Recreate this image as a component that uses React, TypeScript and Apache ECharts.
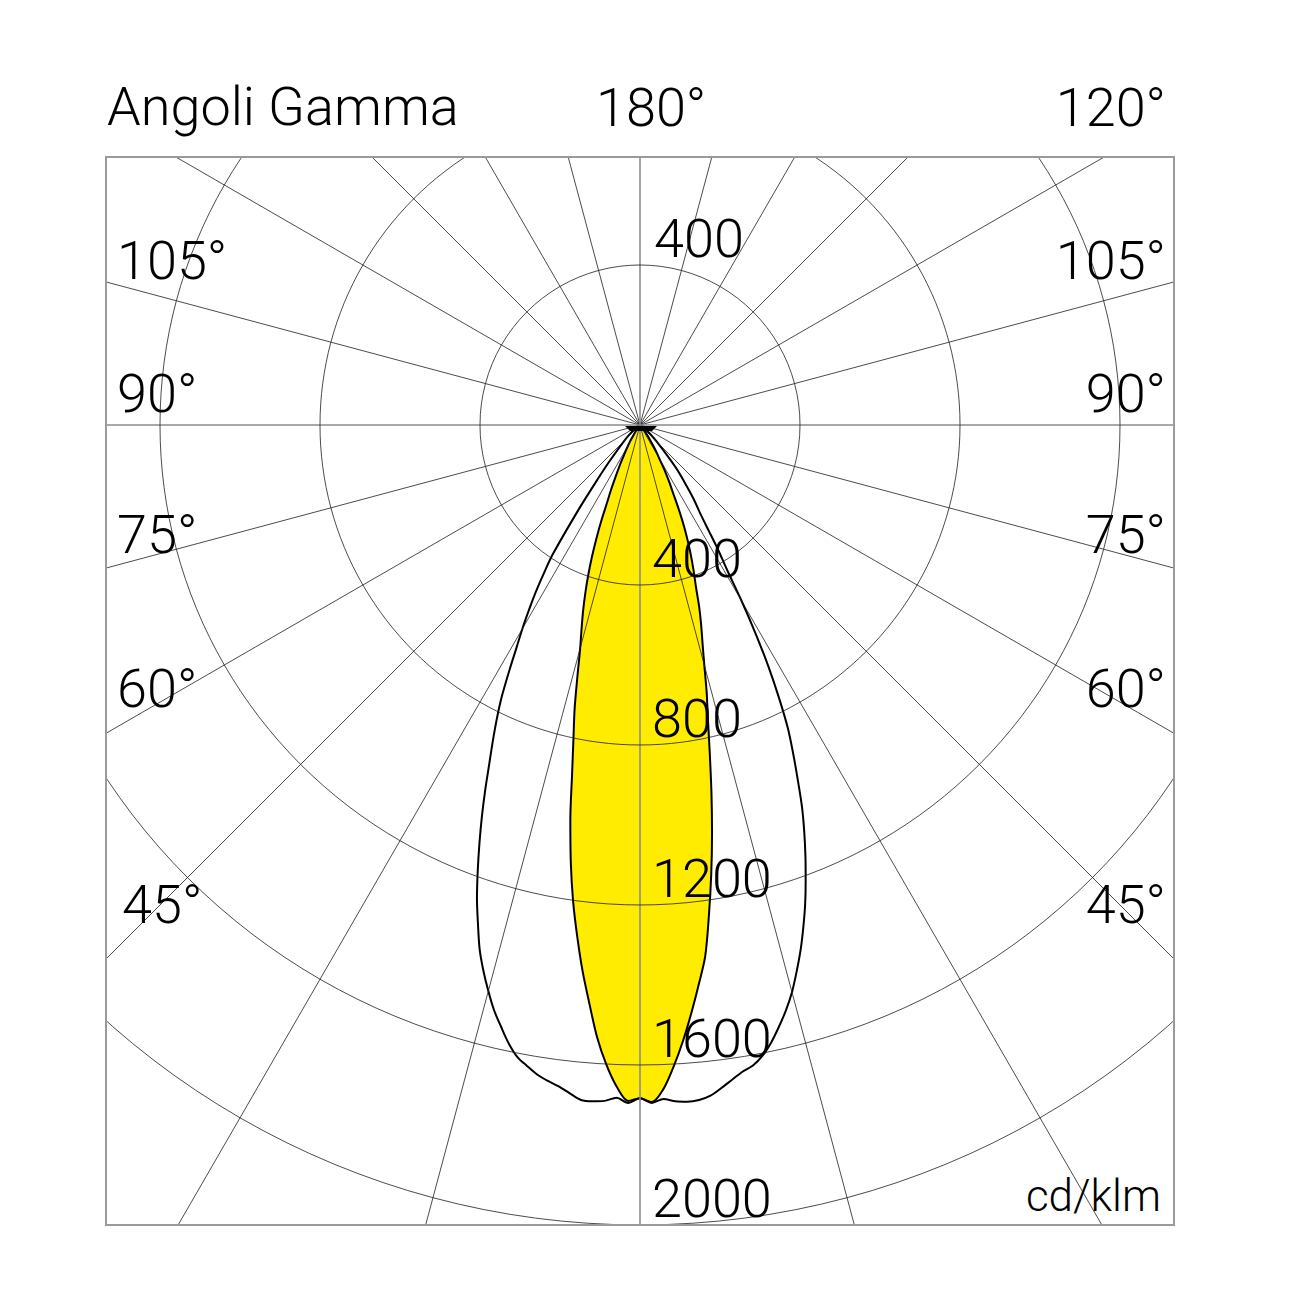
import React, { useEffect, useRef } from 'react';
import * as echarts from 'echarts';

// Gamma angles (degrees from nadir) at which intensities were read
const gammaAngles = [0, 1, 2, 3, 4, 5, 6, 7, 8, 9, 10, 11, 12, 13, 14, 15, 16, 17, 18, 19, 20, 21, 22, 23, 24, 25, 26, 27, 28, 29, 30, 31, 32, 33, 34, 36, 38, 40, 45, 50, 60, 75, 90];

// Yellow filled curve (C0 right half / C180 left half), cd/klm
const yellowRight = [1683, 1693, 1662, 1606, 1543, 1475, 1406, 1338, 1238, 1138, 1037, 936, 839, 755, 689, 621, 567, 523, 479, 431, 395, 361, 327, 293, 257, 221, 187, 164, 141, 117, 96, 82, 68, 55, 45, 28, 17, 10, 3, 0, 0, 0, 0];
const yellowLeft = [1683, 1690, 1656, 1602, 1535, 1452, 1373, 1288, 1202, 1106, 1003, 890, 800, 726, 646, 578, 530, 487, 443, 398, 352, 305, 258, 210, 180, 150, 125, 105, 85, 72, 60, 50, 40, 30, 24, 12, 7, 4, 0, 0, 0, 0, 0];

// Black outline curve (C90 right half / C270 left half), cd/klm
const blackRight = [1683, 1695, 1686, 1693, 1696, 1694, 1686, 1670, 1653, 1637, 1626, 1606, 1578, 1544, 1508, 1468, 1421, 1373, 1321, 1268, 1211, 1154, 1096, 1036, 969, 906, 843, 765, 684, 596, 508, 423, 370, 317, 275, 227, 179, 140, 60, 28, 8, 2, 0];
const blackLeft = [1683, 1695, 1683, 1692, 1695, 1694, 1680, 1666, 1656, 1644, 1627, 1609, 1580, 1544, 1508, 1465, 1420, 1371, 1311, 1252, 1186, 1120, 1055, 990, 926, 870, 816, 760, 697, 637, 588, 538, 490, 440, 390, 260, 172, 120, 55, 25, 8, 2, 0];

// Ring tick labels
const ringLabelsDown = [400, 800, 1200, 1600, 2000];
const ringLabelsUp = [400];

// Angle labels
const titleLabel = 'Angoli Gamma';
const topLabels = ['180°', '120°'];
const sideLabels = ['105°', '90°', '75°', '60°', '45°'];
const unitLabel = 'cd/klm';

const FONT = 'Roboto, "Liberation Sans", Arial, sans-serif';
const WEIGHT = 300;

function buildCurve(right: number[], left: number[]) {
  const pts: [number, number][] = [];
  for (let i = gammaAngles.length - 1; i >= 0; i--) pts.push([right[i], 360 - gammaAngles[i]]);
  for (let i = 1; i < gammaAngles.length; i++) pts.push([left[i], gammaAngles[i]]);
  return pts;
}

export default function App() {
  const ref = useRef<HTMLDivElement>(null);

  useEffect(() => {
    if (!ref.current) return;
    const chart = echarts.init(ref.current, undefined, { renderer: 'svg' });

    const CX = 640;
    const CY = 425;
    const FL = 106, FT = 157, FR = 1174, FB = 1225;

    const gridDark = '#1e1e1e';
    const none = 'rgba(0,0,0,0)';

    const sideY = [260, 393, 534, 688, 904];
    const sideLeftX = [117, 117, 117, 117, 122];

    const textStyle = (text: string, x: number, y: number, align: string, size = 54) => ({
      type: 'text',
      x,
      y,
      z: 30,
      silent: true,
      style: {
        text,
        fontSize: size,
        fontFamily: FONT,
        fontWeight: WEIGHT,
        fill: '#000',
        align,
        textAlign: align,
        verticalAlign: 'middle',
        textVerticalAlign: 'middle',
      },
    });

    const graphics: any[] = [
      { type: 'rect', z: 20, silent: true, shape: { x: 0, y: 0, width: 1302, height: FT }, style: { fill: '#fff' } },
      { type: 'rect', z: 20, silent: true, shape: { x: 0, y: FB, width: 1302, height: 1302 - FB }, style: { fill: '#fff' } },
      { type: 'rect', z: 20, silent: true, shape: { x: 0, y: 0, width: FL, height: 1302 }, style: { fill: '#fff' } },
      { type: 'rect', z: 20, silent: true, shape: { x: FR, y: 0, width: 1302 - FR, height: 1302 }, style: { fill: '#fff' } },
      { type: 'rect', z: 21, silent: true, shape: { x: FL, y: FT, width: FR - FL, height: FB - FT }, style: { fill: 'none', stroke: '#9a9a9a', lineWidth: 2 } },
      { type: 'polygon', z: 21, silent: true, shape: { points: [[CX - 15, CY + 1], [CX + 17, CY + 1], [CX + 12, CY + 6], [CX - 10, CY + 6]] }, style: { fill: '#000' } },
      textStyle(titleLabel, 107, 106, 'left'),
      textStyle(topLabels[0], 596, 107, 'left'),
      textStyle(topLabels[1], 1166, 107, 'right'),
      textStyle(unitLabel, 1161, 1196, 'right', 44),
    ];
    sideLabels.forEach((t, i) => {
      graphics.push(textStyle(t, sideLeftX[i], sideY[i], 'left'));
      graphics.push(textStyle(t, 1166, sideY[i], 'right'));
    });

    const option: any = {
      animation: false,
      backgroundColor: '#ffffff',
      polar: [
        { center: [CX, CY], radius: 1120 },
        { center: [CX, CY], radius: 1120 },
      ],
      angleAxis: [
        {
          polarIndex: 0,
          type: 'value',
          min: 0,
          max: 360,
          interval: 15,
          startAngle: 270,
          clockwise: true,
          z: 10,
          axisLine: { show: false },
          axisTick: { show: false },
          axisLabel: { show: false },
          splitLine: { show: true, lineStyle: { color: [none, gridDark, gridDark, gridDark, gridDark, gridDark], width: 0.8 } },
        },
        {
          polarIndex: 1,
          type: 'value',
          min: 0,
          max: 360,
          interval: 90,
          startAngle: 90,
          clockwise: true,
          z: 10,
          axisLine: { show: false },
          axisTick: { show: false },
          axisLabel: { show: false },
          splitLine: { show: true, lineStyle: { color: '#8c8c8c', width: 1.6 } },
        },
      ],
      radiusAxis: [
        {
          polarIndex: 0,
          type: 'value',
          min: 0,
          max: 2800,
          interval: 400,
          z: 11,
          axisLine: { show: false },
          axisTick: { show: false },
          axisLabel: {
            show: true,
            formatter: (v: number) => (ringLabelsDown.indexOf(v) >= 0 ? String(v) : ''),
            align: 'left',
            verticalAlign: 'bottom',
            margin: 12,
            fontSize: 54,
            fontFamily: FONT,
            fontWeight: WEIGHT,
            color: '#000',
          },
          splitLine: {
            show: true,
            lineStyle: { color: [none, gridDark, gridDark, gridDark, gridDark, gridDark, none, none], width: 0.8 },
          },
        },
        {
          polarIndex: 1,
          type: 'value',
          min: 0,
          max: 2800,
          interval: 400,
          z: 11,
          axisLine: { show: false },
          axisTick: { show: false },
          splitLine: { show: false },
          axisLabel: {
            show: true,
            formatter: (v: number) => (ringLabelsUp.indexOf(v) >= 0 ? String(v) : ''),
            align: 'left',
            verticalAlign: 'bottom',
            margin: -14,
            fontSize: 54,
            fontFamily: FONT,
            fontWeight: WEIGHT,
            color: '#000',
          },
        },
      ],
      series: [
        {
          name: 'C0-C180',
          type: 'line',
          coordinateSystem: 'polar',
          polarIndex: 0,
          data: buildCurve(yellowRight, yellowLeft),
          symbol: 'none',
          smooth: 0.3,
          z: 2,
          lineStyle: { color: '#000', width: 2 },
          areaStyle: { color: '#ffec00', opacity: 1 },
        },
        {
          name: 'C90-C270',
          type: 'line',
          coordinateSystem: 'polar',
          polarIndex: 0,
          data: buildCurve(blackRight, blackLeft),
          symbol: 'none',
          smooth: 0.3,
          z: 3,
          lineStyle: { color: '#000', width: 2 },
        },
      ],
      graphic: { elements: graphics },
    };

    chart.setOption(option);
    return () => chart.dispose();
  }, []);

  return (
    <div
      ref={ref}
      style={{ position: 'absolute', left: 0, top: 0, width: 1302, height: 1302, background: '#fff' }}
    />
  );
}
